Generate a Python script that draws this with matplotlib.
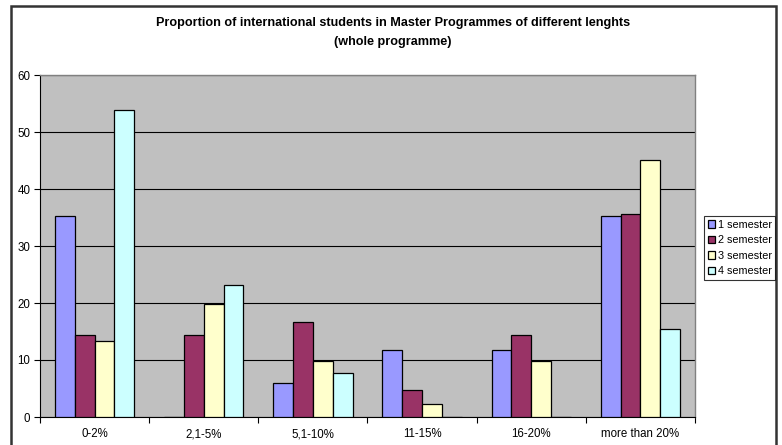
import matplotlib
matplotlib.use("Agg")
import matplotlib.pyplot as plt
import numpy as np
from matplotlib.patches import Rectangle

plt.rcParams['font.family'] = ['Liberation Sans', 'DejaVu Sans']

categories = ["0-2%", "2,1-5%", "5,1-10%", "11-15%", "16-20%", "more than 20%"]
series_names = ["1 semester", "2 semester", "3 semester", "4 semester"]
sem1 = [35.3, 0.0, 5.9, 11.8, 11.8, 35.3]
sem2 = [14.3, 14.3, 16.7, 4.8, 14.3, 35.7]
sem3 = [13.3, 19.8, 9.9, 2.2, 9.9, 45.1]
sem4 = [53.8, 23.1, 7.7, 0.0, 0.0, 15.4]
yticks = [0, 10, 20, 30, 40, 50, 60]

colors = ["#9999FF", "#993366", "#FFFFCC", "#CCFFFF"]
series = [sem1, sem2, sem3, sem4]

W, H = 782, 445
fig = plt.figure(figsize=(W / 100, H / 100), dpi=100)

# outer chart frame
fig.add_artist(Rectangle((11 / W, -0.05), (776 - 11) / W, (H - 6) / H + 0.05,
                         transform=fig.transFigure, fill=False,
                         edgecolor="#333333", linewidth=1.8))

left, right, top, bottom = 40, 695, 75, 417
ax = fig.add_axes([left / W, (H - bottom) / H, (right - left) / W, (bottom - top) / H])
ax.set_facecolor("#C0C0C0")

n = len(series)
bw = 1 / (n + 1.5)
x = np.arange(len(categories))
for i, (vals, c, name) in enumerate(zip(series, colors, series_names)):
    offs = (i - (n - 1) / 2) * bw
    ax.bar(x + offs, vals, width=bw, color=c, edgecolor="black",
           linewidth=0.9, label=name, zorder=3)

ax.set_xlim(-0.5, len(categories) - 0.5)
ax.set_ylim(0, 60)
ax.set_yticks(yticks)
ax.yaxis.grid(True, color="black", linewidth=0.8, zorder=1)
ax.set_axisbelow(True)

ax.set_xticks(x)
ax.set_xticklabels(categories, fontsize=8.3)
ax.tick_params(axis="x", length=0, pad=8)
ax.set_xticks(np.arange(len(categories) + 1) - 0.5, minor=True)
ax.tick_params(axis="x", which="minor", length=4, width=0.8, direction="out")
ax.tick_params(axis="y", labelsize=8.3, length=4, width=0.8, direction="out", pad=3)

for side in ("top", "right"):
    ax.spines[side].set_color("#808080")
    ax.spines[side].set_linewidth(1.0)
for side in ("left", "bottom"):
    ax.spines[side].set_color("black")
    ax.spines[side].set_linewidth(0.8)

tx = 393 / W
fig.text(tx, 1 - 23 / H,
         "Proportion of international students in Master Programmes of different lenghts",
         ha="center", va="center", fontsize=9.1, fontweight="bold")
fig.text(tx, 1 - 42 / H, "(whole programme)",
         ha="center", va="center", fontsize=9.1, fontweight="bold")

leg = fig.legend(loc="center left", bbox_to_anchor=(704 / W, 1 - 248 / H),
                 fontsize=7.8, frameon=True, fancybox=False, edgecolor="black",
                 handlelength=0.65, handleheight=0.65, handletextpad=0.25,
                 borderpad=0.35, labelspacing=0.5, borderaxespad=0)
leg.get_frame().set_linewidth(0.8)

fig.savefig("out.png", dpi=100)
